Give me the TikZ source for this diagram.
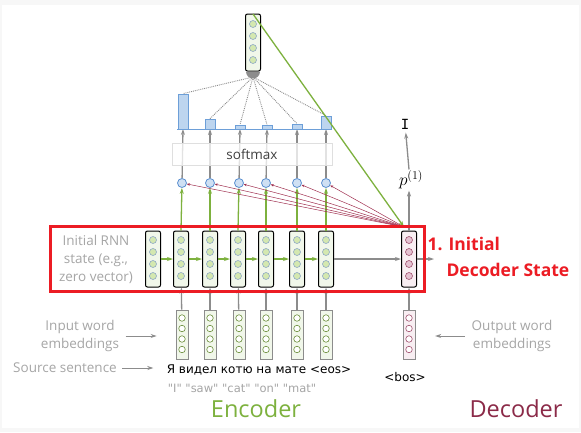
\documentclass[tikz,border=0pt]{standalone}
\usepackage{tkz-euclide}
\usepackage{amsmath}
\usepackage{fontspec}
\setmainfont{Open Sans}
\newfontfamily\wordfont{DejaVu Sans}
\newfontfamily\monofont{DejaVu Sans Mono}
\usetikzlibrary{arrows.meta}
\definecolor{encfill}{HTML}{F1F7EA}
\definecolor{encunit}{HTML}{D4E8B0}
\definecolor{unitline}{HTML}{8FA9C6}
\definecolor{decfill}{HTML}{F8EEF2}
\definecolor{decunit}{HTML}{E4C2D1}
\definecolor{decline}{HTML}{A0506E}
\definecolor{embline}{HTML}{6B8E3A}
\definecolor{scorefill}{HTML}{CFE0F3}
\definecolor{scoreline}{HTML}{5A8FD0}
\definecolor{barfill}{HTML}{BDD5EF}
\definecolor{barline}{HTML}{6D9FD8}
\definecolor{encgreen}{HTML}{7DB13E}
\definecolor{arrgray}{HTML}{8C8C8C}
\definecolor{attred}{HTML}{A03050}
\definecolor{decred}{HTML}{8B2A48}
\definecolor{boxred}{HTML}{EC1C24}
\definecolor{labgray}{HTML}{A6A6A6}

\begin{document}
\begin{tikzpicture}[x=1pt, y=-1pt,
    cellbox/.style={draw=black, line width=1pt, rounded corners=2pt, fill=#1,
      minimum width=15pt, minimum height=56pt, inner sep=0pt},
    embbox/.style={draw=arrgray, line width=0.8pt, fill=encfill,
      minimum width=12pt, minimum height=49pt, inner sep=0pt},
    unit/.style={circle, draw=#1, line width=0.6pt, minimum size=7pt, inner sep=0pt},
    score/.style={circle, draw=scoreline, fill=scorefill, line width=0.8pt,
      minimum size=9pt, inner sep=0pt},
    bar/.style={draw=barline, fill=barfill, minimum width=10pt, inner sep=0pt, anchor=south},
    gar/.style={-{Stealth[length=6pt,width=4pt]}, arrgray, line width=1.3pt},
    garr/.style={-{Stealth[length=6pt,width=4pt]}, encgreen, line width=1.3pt},
    rar/.style={-{Stealth[length=3pt,width=2.5pt]}, attred, line width=0.5pt},
    lab/.style={labgray, align=center, font=\fontsize{13.5}{18}\selectfont}]
  \fill[gray!6] (0,0) rectangle (581,432);
  \fill[white] (2,5) rectangle (579,428);
  \useasboundingbox (0,0) rectangle (581,432);
  \tkzDefPoints{253/14/T, 404/227/D, 253/77/H, 434/259/O}
  % encoder
  \foreach \x [count=\i] in {153,181,210,238,266,297,326}{
    \node[cellbox=encfill] (e\i) at (\x,259) {};
    \foreach \y in {240,252,264,276} \node[unit=unitline, fill=encunit] at (\x,\y) {};
  }
  \foreach \i [count=\j from 2] in {1,...,6} \draw[garr] (e\i) -- (e\j);
  \foreach \x [count=\i from 2] in {182,210,239,266,297,326}{
    \node[embbox] (w\i) at (\x,334.5) {};
    \foreach \y in {318,328.5,339,349.5} \node[unit=embline, fill=white, minimum size=6.5pt] at (\x,\y) {};
    \draw[gar] (w\i) -- (e\i);
    \node[score] (s\i) at (\x,183) {};
    \draw[garr] (e\i.north) -- (s\i);
  }
  % decoder
  \node[cellbox=decfill] (dec) at (409,259) {};
  \foreach \y in {240,252,264,276} \node[unit=decline, fill=decunit] at (409,\y) {};
  \node[embbox, fill=decfill] (wd) at (409,334.5) {};
  \foreach \y in {318,328.5,339,349.5} \node[unit=decline, fill=white, minimum size=6.5pt] at (409,\y) {};
  \draw[gar] (wd) -- (dec);
  \draw[gar] (e7) -- (dec);
  \draw[gar] (dec) -- (O);
  \node[font=\fontsize{17}{17}\selectfont, inner sep=1pt] (p) at (411,180) {$p^{(1)}$};
  \node[font=\monofont\fontsize{14}{14}\selectfont] (y1) at (405,124) {I};
  \draw[gar] (dec) -- (p.south -| dec);
  \draw[gar] (p.north -| dec) -- (y1);
  % attention
  \foreach \x/\h [count=\i from 2] in {183/35,210/10,240/4,267/4,297/5,326/13}{
    \node[bar, minimum height=\h pt] (b\i) at (\x,129) {};
    \draw[gar] (s\i) -- (b\i.south);
    \draw[rar] (D) -- (s\i);
  }
  \node[draw=gray!25, fill=white, fill opacity=.75, text opacity=1, minimum width=160pt,
    minimum height=22pt, font=\fontsize{13.5}{13.5}\selectfont, text=black!75] (soft) at (252,154) {softmax};
  \draw[barline, line width=1pt] (177,129) -- (332,129);
  \node[cellbox=encfill, minimum height=57pt] (top) at (253,42.5) {};
  \foreach \y in {24,36,48,60} \node[unit=unitline, fill=encunit] at (253,\y) {};
  \fill[arrgray] (top.south) ++(-7pt,0) arc[start angle=180, end angle=360, radius=7pt] -- cycle;
  \foreach \i in {2,...,7} \draw[densely dotted, arrgray, line width=0.9pt] (H) -- (b\i.north);
  \draw[encgreen, line width=1.3pt, -{Stealth[length=6pt,width=4pt]}] (T) -- (D);
  % labels
  \draw[boxred, line width=3pt] (50,226) rectangle (424,291);
  \node[lab] (init) at (96,259) {Initial RNN\\state (e.g.,\\zero vector)};
  \node[boxred, anchor=west, font=\bfseries\fontsize{17.5}{17.5}\selectfont] (st1) at (424,244) {1. Initial};
  \node[boxred, anchor=west, font=\bfseries\fontsize{17.5}{17.5}\selectfont] (st2) at (443,270) {Decoder State};
  \node[lab] (inw) at (80,336) {Input word\\embeddings};
  \node[lab] (src) at (65,368) {Source sentence};
  \node[lab] (outw) at (512,336) {Output word\\embeddings};
  \draw[gar, line width=1pt] (inw.east) ++(3pt,0) -- ++(31pt,0);
  \draw[gar, line width=1pt] (src.east) ++(2pt,0) -- ++(31pt,0);
  \draw[gar, line width=1pt] (outw.west) ++(-3pt,0) -- ++(-30pt,0);
  \node[font=\wordfont\fontsize{12}{12}\selectfont] (sent) at (259,370) {Я видел котю на мате <eos>};
  \node[font=\wordfont\fontsize{12}{12}\selectfont] (bos) at (405,377) {<bos>};
  \node[labgray, font=\wordfont\fontsize{11.5}{11.5}\selectfont] (tr) at (242,388) {"I" "saw" "cat" "on" "mat"};
  \node[encgreen, font=\fontsize{23.5}{23.5}\selectfont] (enc) at (256,409) {Encoder};
  \node[decred, font=\fontsize{23.5}{23.5}\selectfont] (decl) at (516,409) {Decoder};
\end{tikzpicture}
\end{document}
